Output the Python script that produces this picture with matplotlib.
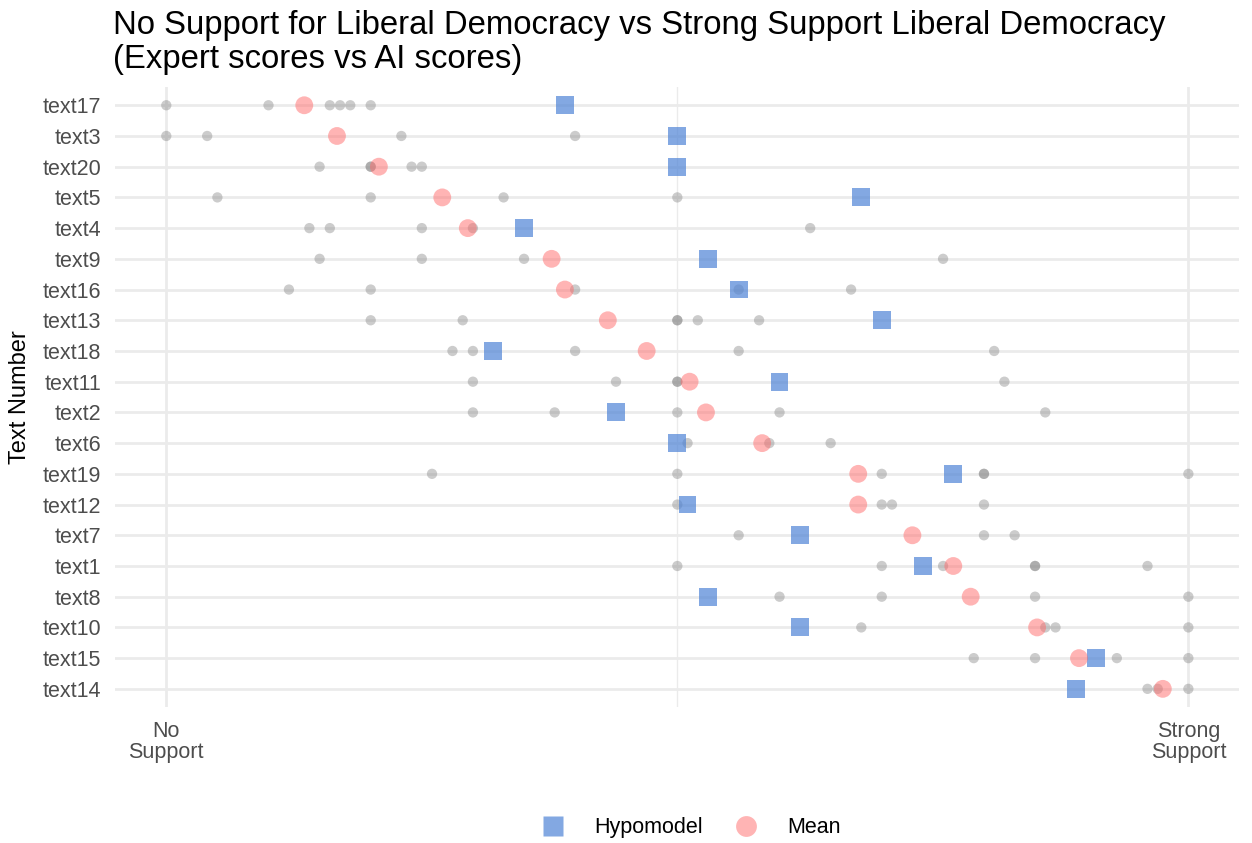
import matplotlib.pyplot as plt
from matplotlib.lines import Line2D

plt.rcParams['font.family'] = ['Liberation Sans', 'DejaVu Sans']

# rows top to bottom (sorted by expert mean)
texts = ['text17', 'text3', 'text20', 'text5', 'text4', 'text9', 'text16',
         'text13', 'text18', 'text11', 'text2', 'text6', 'text19', 'text12',
         'text7', 'text1', 'text8', 'text10', 'text15', 'text14']

# individual expert scores (0 = no support, 1 = strong support)
expert_scores = [
    [0.0, 0.10, 0.16, 0.17, 0.18, 0.20],
    [0.0, 0.04, 0.23, 0.40],
    [0.15, 0.20, 0.20, 0.24, 0.25],
    [0.05, 0.20, 0.33, 0.50],
    [0.14, 0.16, 0.25, 0.30, 0.63],
    [0.15, 0.25, 0.35, 0.76],
    [0.12, 0.20, 0.40, 0.56, 0.67],
    [0.20, 0.29, 0.50, 0.50, 0.52, 0.58],
    [0.28, 0.30, 0.40, 0.56, 0.81],
    [0.30, 0.44, 0.50, 0.50, 0.82],
    [0.30, 0.38, 0.50, 0.60, 0.86],
    [0.51, 0.59, 0.65],
    [0.26, 0.50, 0.70, 0.80, 0.80, 1.00],
    [0.50, 0.70, 0.71, 0.80],
    [0.56, 0.80, 0.83],
    [0.50, 0.70, 0.76, 0.85, 0.85, 0.96],
    [0.60, 0.70, 0.85, 1.00],
    [0.68, 0.86, 0.87, 1.00],
    [0.79, 0.85, 0.93, 1.00],
    [0.96, 0.97, 1.00],
]

mean_scores = [0.135, 0.167, 0.208, 0.270, 0.295, 0.377, 0.390, 0.432, 0.470,
               0.512, 0.528, 0.583, 0.677, 0.677, 0.730, 0.770, 0.787, 0.852,
               0.893, 0.975]

hypomodel_scores = [0.39, 0.50, 0.50, 0.68, 0.35, 0.53, 0.56, 0.70, 0.32,
                    0.60, 0.44, 0.50, 0.77, 0.51, 0.62, 0.74, 0.53, 0.62,
                    0.91, 0.89]

x_ticks = [0, 1]
x_labels = ['No\nSupport', 'Strong\nSupport']

fig = plt.figure(figsize=(12.52, 8.43), dpi=100)
ax = fig.add_axes([0.092, 0.161, 0.898, 0.736])

ypos = list(range(len(texts)))

# grid like ggplot theme_minimal
for y in ypos:
    ax.axhline(y, color='#ebebeb', lw=2.0, zorder=0)
for x in x_ticks:
    ax.axvline(x, color='#ebebeb', lw=2.0, zorder=0)
ax.axvline(0.5, color='#ebebeb', lw=1.0, zorder=0)

for y, vals in zip(ypos, expert_scores):
    ax.scatter(vals, [y] * len(vals), s=55, color='#808080', alpha=0.4,
               edgecolors='none', zorder=2)

ax.scatter(hypomodel_scores, ypos, s=165, marker='s', color='#4f84d6',
           alpha=0.7, edgecolors='none', zorder=3)
ax.scatter(mean_scores, ypos, s=165, marker='o', color='#ff6b6b',
           alpha=0.5, edgecolors='none', zorder=4)

ax.set_xlim(-0.05, 1.05)
ax.set_ylim(len(texts) - 0.4, -0.6)
ax.set_xticks(x_ticks)
ax.set_xticklabels(x_labels, fontsize=15.5, color='#4d4d4d', linespacing=1.0)
ax.set_yticks(ypos)
ax.set_yticklabels(texts, fontsize=15.5, color='#4d4d4d')
ax.tick_params(length=0)
ax.tick_params(axis='y', pad=10)
ax.tick_params(axis='x', pad=10)
for s in ax.spines.values():
    s.set_visible(False)

ax.set_ylabel('Text Number', fontsize=17, labelpad=8)
fig.text(0.09, 0.988, 'No Support for Liberal Democracy vs Strong Support Liberal Democracy\n'
         '(Expert scores vs AI scores)', fontsize=23.7, ha='left', va='top',
         linespacing=1.12)

handles = [
    Line2D([], [], marker='s', linestyle='none', markersize=15,
           markerfacecolor='#4f84d6', markeredgecolor='none', alpha=0.7, label='Hypomodel'),
    Line2D([], [], marker='o', linestyle='none', markersize=15,
           markerfacecolor='#ff6b6b', markeredgecolor='none', alpha=0.5, label='Mean'),
]
fig.legend(handles=handles, loc='center', bbox_to_anchor=(0.548, 0.018), ncol=2,
           frameon=False, fontsize=15.5, handletextpad=0.9, columnspacing=1.0)

fig.savefig('out.png', dpi=100)
